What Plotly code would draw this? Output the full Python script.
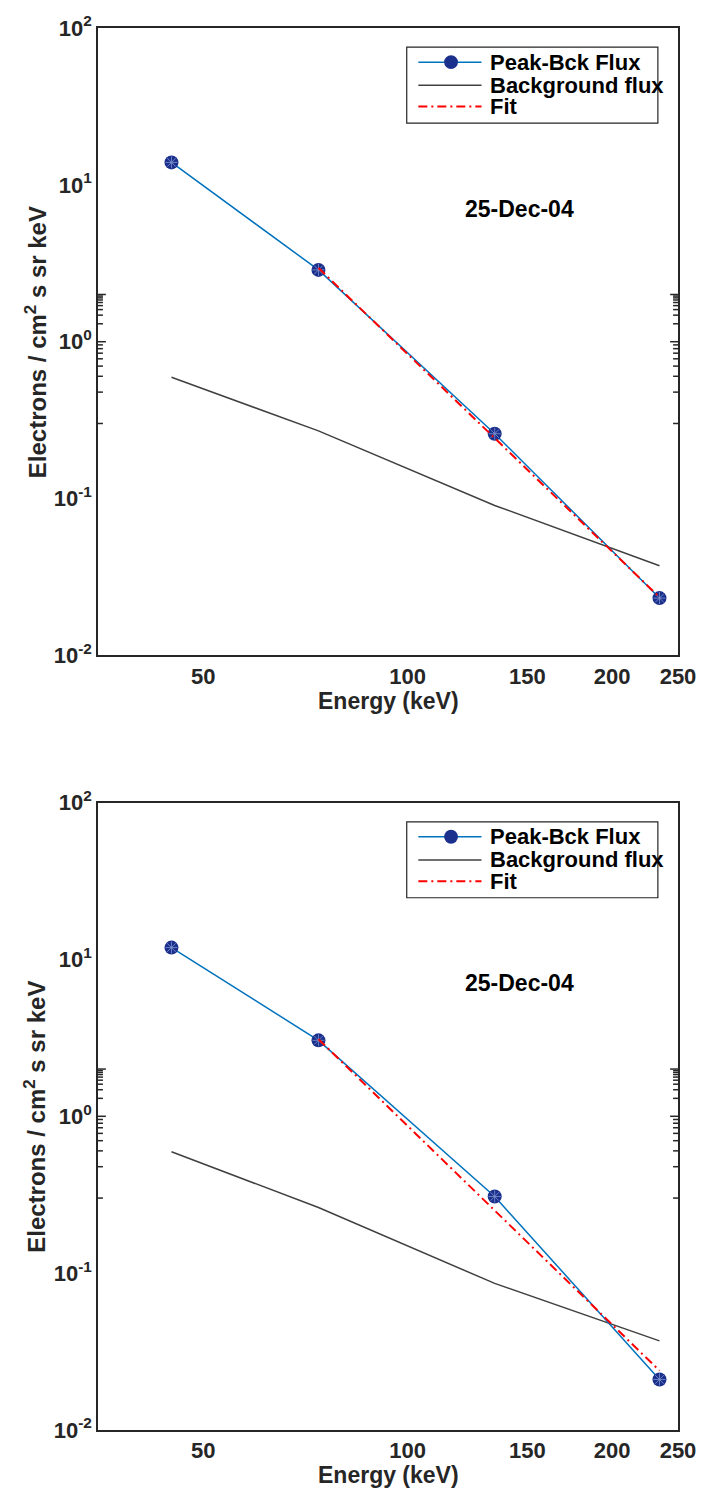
import math
import plotly.graph_objects as go

# Channel energies (keV) and fluxes for the two panels
energy = [44.9, 73.9, 134.3, 234.8]
fit_energy = [73.9, 234.8]

peak_top = [13.9, 2.87, 0.259, 0.0232]
bck_top = [0.594, 0.270, 0.0904, 0.0373]
fit_top = [2.95, 0.0235]

peak_bot = [11.9, 3.05, 0.308, 0.0210]
bck_bot = [0.594, 0.262, 0.086, 0.0370]
fit_bot = [3.10, 0.0239]

date_label = "25-Dec-04"
legend_names = ["Peak-Bck Flux", "Background flux", "Fit"]

x_major = [50, 100, 150, 200, 250]
x_minor = [37.5, 62.5, 75, 87.5, 112.5, 125, 137.5, 162.5, 175, 187.5,
           212.5, 225, 237.5]
y_major = [0.01, 0.1, 1, 10, 100]
y_major_text = ["10<sup>-2</sup>", "10<sup>-1</sup>", "10<sup>0</sup>",
                "10<sup>1</sup>", "10<sup>2</sup>"]
y_minor = [m * 10.0 ** e for e in range(-2, 2) for m in range(2, 10)]

BLUE = "#0072BD"
NAVY = "#1b2f8c"
GRAY = "#404040"
RED = "#ff0000"
AX = "#262626"
FONT = "Liberation Sans"
FIT_DASH = "9px,4px,2px,4px"
X_RANGE = [1.5440680, 2.3979420]
Y_RANGE = [-2, 2]

FIG_W, FIG_H = 708, 1490
MARGIN = dict(l=98, r=22, t=20, b=60)
top_dom = [0.55248, 1.0]
bot_dom = [0.0, 0.44752]
PLOT_W = FIG_W - MARGIN["l"] - MARGIN["r"]
PLOT_H = (FIG_H - MARGIN["t"] - MARGIN["b"]) * (top_dom[1] - top_dom[0])
MAJOR_LEN, MINOR_LEN = 8, 5

fig = go.Figure()

panels = [
    ("x", "y", peak_top, bck_top, fit_top),
    ("x2", "y2", peak_bot, bck_bot, fit_bot),
]

for xa, ya, peak, bck, fit in panels:
    fig.add_trace(go.Scatter(
        x=energy, y=bck, xaxis=xa, yaxis=ya, mode="lines",
        line=dict(color=GRAY, width=1.5),
        showlegend=False, name=legend_names[1]))
    fig.add_trace(go.Scatter(
        x=energy, y=peak, xaxis=xa, yaxis=ya, mode="lines+markers",
        line=dict(color=BLUE, width=1.5),
        marker=dict(symbol="circle", size=14, color=NAVY, line=dict(width=0)),
        showlegend=False, name=legend_names[0]))
    fig.add_trace(go.Scatter(
        x=energy, y=peak, xaxis=xa, yaxis=ya, mode="markers",
        marker=dict(symbol="asterisk-open", size=10, color="#7f95d0",
                    line=dict(width=0.8, color="#7f95d0")),
        showlegend=False, hoverinfo="skip"))
    fig.add_trace(go.Scatter(
        x=fit_energy, y=fit, xaxis=xa, yaxis=ya, mode="lines",
        line=dict(color=RED, width=2, dash=FIT_DASH),
        showlegend=False, name=legend_names[2]))

tick_font = dict(family=FONT, size=22, color=AX, weight="bold")
common = dict(type="log", ticks="", showline=True, linecolor=AX,
              linewidth=1.5, mirror=True, showgrid=False, zeroline=False)

xaxis_style = dict(common, range=X_RANGE, tickmode="array", tickvals=x_major,
                   ticktext=[str(v) for v in x_major], tickfont=tick_font)
yaxis_style = dict(common, range=Y_RANGE, tickmode="array", tickvals=y_major,
                   ticktext=y_major_text, tickfont=tick_font)

fig.update_layout(
    width=FIG_W, height=FIG_H,
    margin=MARGIN,
    paper_bgcolor="white", plot_bgcolor="white",
    font=dict(family=FONT, color=AX),
    xaxis=dict(xaxis_style, anchor="y"),
    yaxis=dict(yaxis_style, domain=top_dom, anchor="x"),
    xaxis2=dict(xaxis_style, anchor="y2"),
    yaxis2=dict(yaxis_style, domain=bot_dom, anchor="x2"),
)

shapes = []
annotations = []
tick_line = dict(color=AX, width=1.5)

for xa, ya, *_ in panels:
    xd = xa + " domain"
    yd = ya + " domain"

    # inward tick marks on all four sides (log axes take log10 positions)
    for vals, ln in [(x_major, MAJOR_LEN), (x_minor, MINOR_LEN)]:
        f = ln / PLOT_H
        for v in vals:
            lv = math.log10(v)
            shapes.append(dict(type="line", xref=xa, yref=yd, x0=lv, x1=lv,
                               y0=0, y1=f, line=tick_line, layer="above"))
            shapes.append(dict(type="line", xref=xa, yref=yd, x0=lv, x1=lv,
                               y0=1, y1=1 - f, line=tick_line, layer="above"))
    for vals, ln in [(y_major, MAJOR_LEN), (y_minor, MINOR_LEN)]:
        f = ln / PLOT_W
        for v in vals:
            lv = math.log10(v)
            shapes.append(dict(type="line", xref=xd, yref=ya, y0=lv, y1=lv,
                               x0=0, x1=f, line=tick_line, layer="above"))
            shapes.append(dict(type="line", xref=xd, yref=ya, y0=lv, y1=lv,
                               x0=1, x1=1 - f, line=tick_line, layer="above"))

    # axis titles
    annotations.append(dict(
        xref=xd, yref=yd, x=0.5, y=-0.072, xanchor="center", yanchor="middle",
        text="Energy (keV)", showarrow=False,
        font=dict(family=FONT, size=23, color=AX, weight="bold")))
    annotations.append(dict(
        xref=xd, yref=yd, x=-0.1078, y=0.5, xanchor="center", yanchor="middle",
        textangle=-90, text="Electrons / cm<sup>2</sup> s sr keV",
        showarrow=False,
        font=dict(family=FONT, size=24, color=AX, weight="bold")))
    # date label
    annotations.append(dict(
        xref=xd, yref=yd, x=0.7264, y=0.712, xanchor="center", yanchor="middle",
        text=date_label, showarrow=False,
        font=dict(family=FONT, size=23, color="black", weight="bold")))
    # legend box
    shapes.append(dict(type="rect", xref=xd, yref=yd,
                       x0=0.5323, x1=0.9653, y0=0.8483, y1=0.9694,
                       line=dict(color=AX, width=1.2), fillcolor="white",
                       layer="above"))
    rows = [0.9456, 0.9086, 0.8748]
    styles = [dict(color=BLUE, width=1.5), dict(color=GRAY, width=1.5),
              dict(color=RED, width=2, dash=FIT_DASH)]
    for name, ry, st in zip(legend_names, rows, styles):
        shapes.append(dict(type="line", xref=xd, yref=yd,
                           x0=0.5523, x1=0.6612, y0=ry, y1=ry,
                           line=st, layer="above"))
        annotations.append(dict(
            xref=xd, yref=yd, x=0.6724, y=ry, xanchor="left", yanchor="middle",
            text=name, showarrow=False,
            font=dict(family=FONT, size=22, color="black", weight="bold")))
    shapes.append(dict(type="circle", xref=xd, yref=yd,
                       x0=0.6087 - 0.0119, x1=0.6087 + 0.0119,
                       y0=rows[0] - 0.0111, y1=rows[0] + 0.0111,
                       fillcolor=NAVY, line=dict(width=0), layer="above"))

fig.update_layout(shapes=shapes, annotations=annotations)
fig.write_html("out.html")
